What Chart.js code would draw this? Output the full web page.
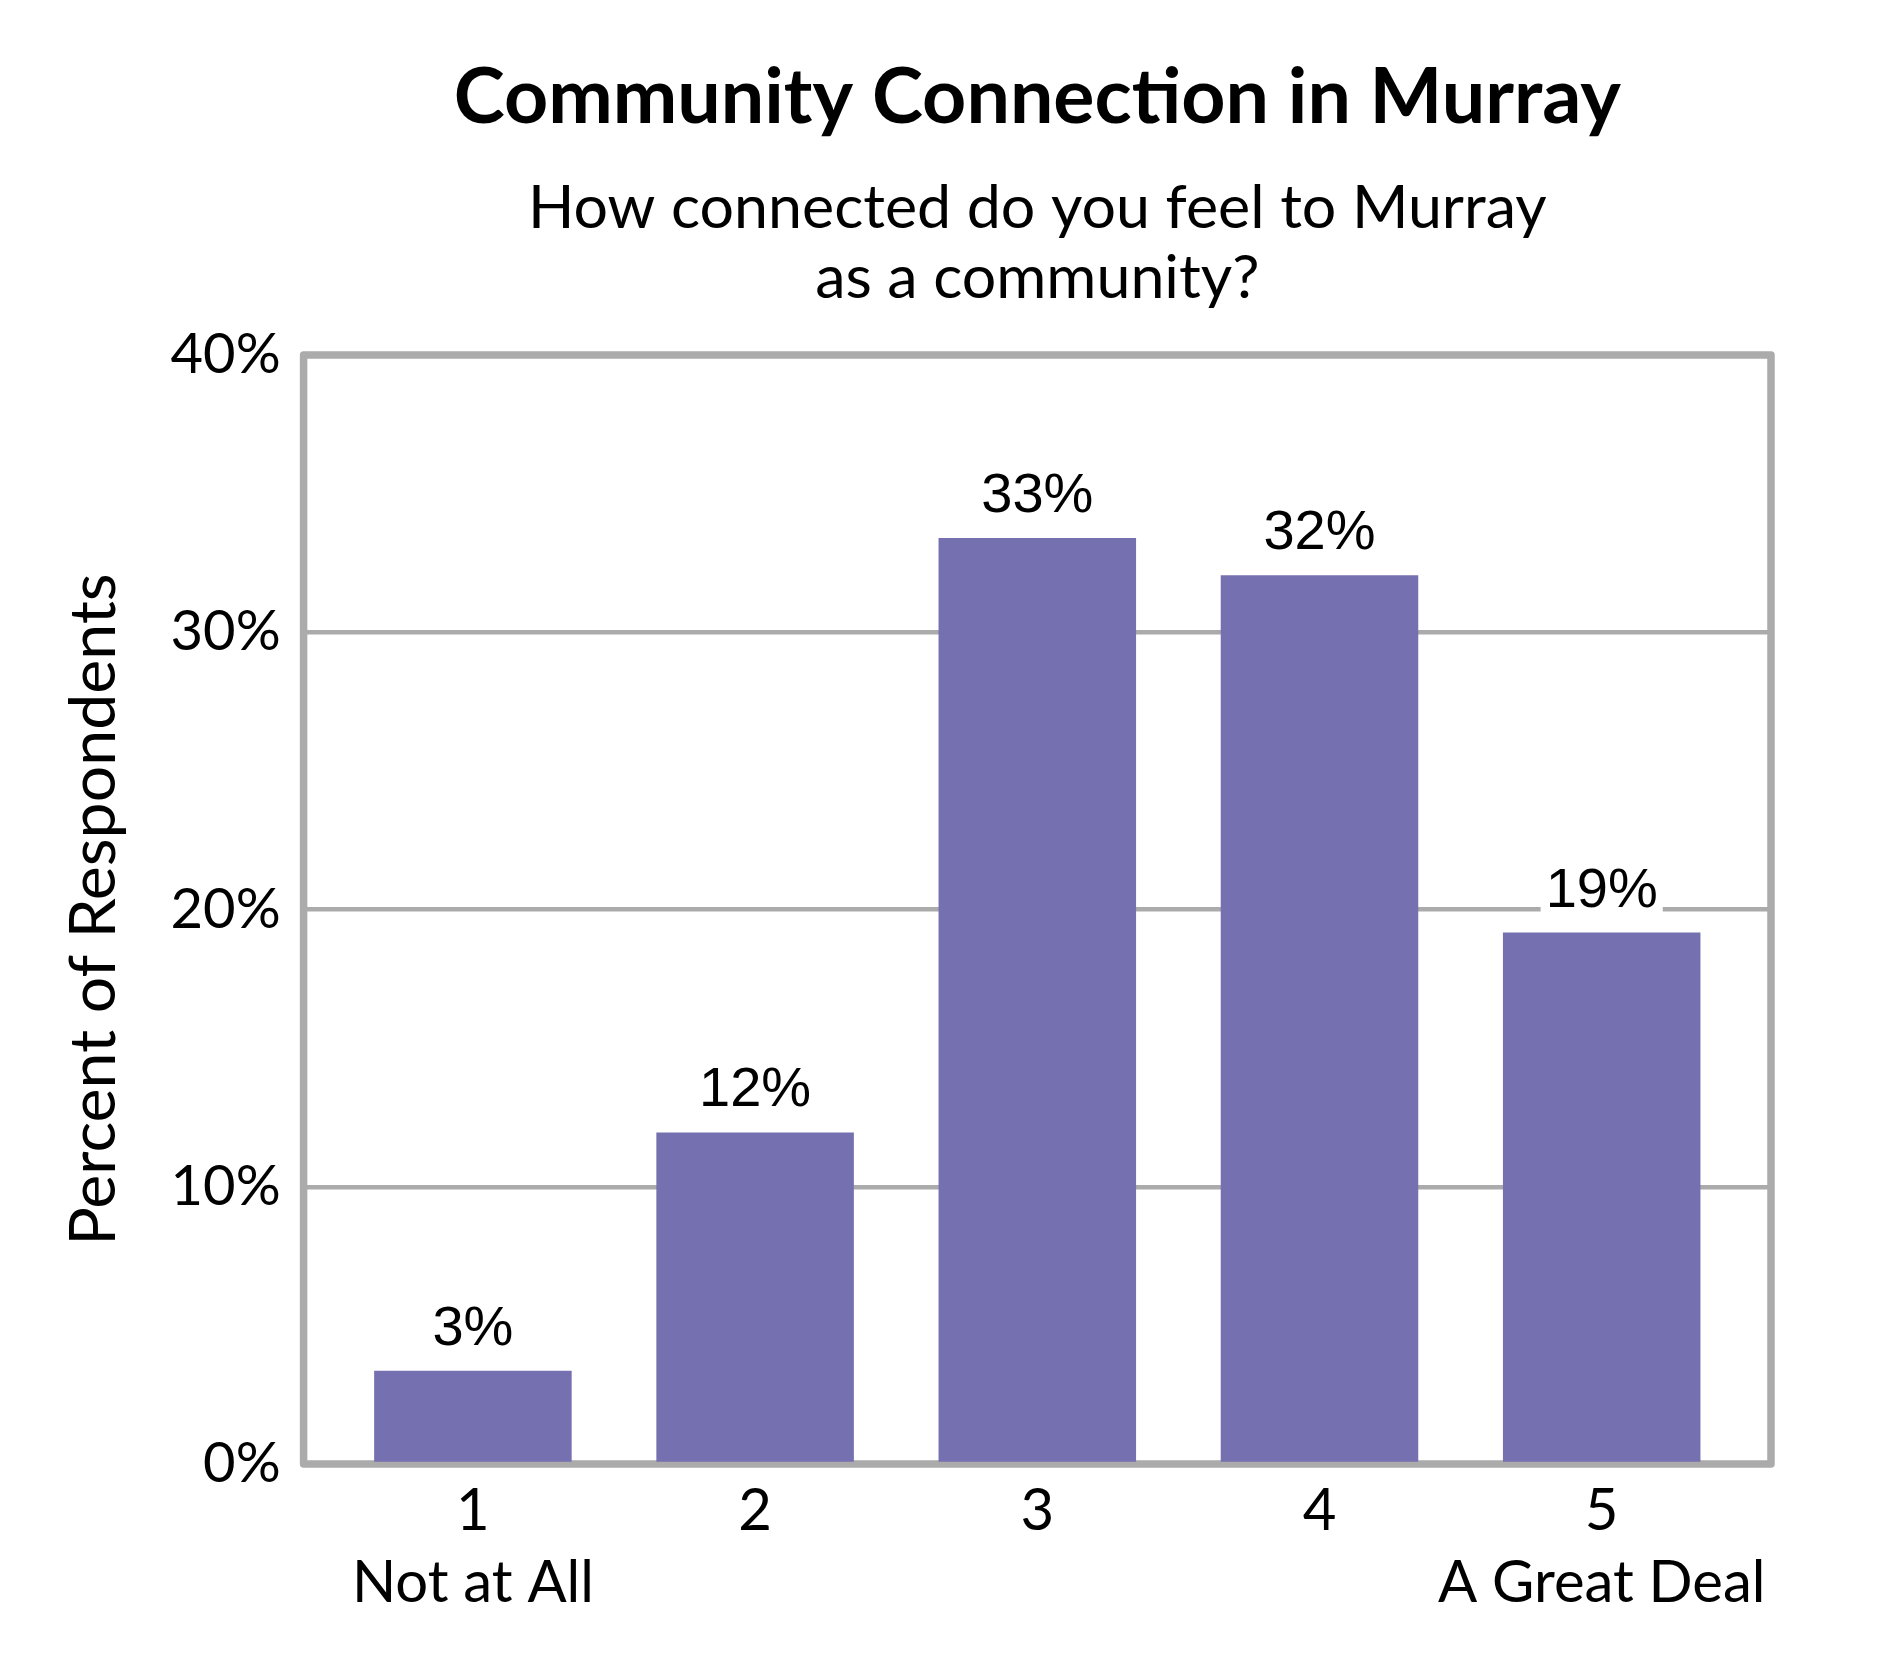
<!DOCTYPE html>
<html>
<head>
<meta charset="utf-8">
<script src="https://cdn.jsdelivr.net/npm/chart.js@4.4.1/dist/chart.umd.min.js"></script>
<style>
html,body{margin:0;padding:0;background:#fff;}
#wrap{width:1890px;height:1680px;}
canvas{display:block;}
</style>
</head>
<body>
<div id="wrap"><canvas id="c" width="1890" height="1680"></canvas></div>
<script>
// ---- data ----
const categories = ["1", "2", "3", "4", "5"];
const captions = ["Not at All", "", "", "", "A Great Deal"];
const values = [3.36, 11.96, 33.4, 32.06, 19.17];
const valueLabels = ["3%", "12%", "33%", "32%", "19%"];
const yTicks = [0, 10, 20, 30, 40];
const titleText = "Community Connection in Murray";
const subtitleLines = ["How connected do you feel to Murray", "as a community?"];
const yTitle = "Percent of Respondents";

// ---- style ----
const FONT = 'Lato, "Open Sans", sans-serif';
const SANS = '"Liberation Sans", Arial, sans-serif';
const GRID = '#ABABAB';
const BAR = '#7571B1';

const mctx = document.createElement('canvas').getContext('2d');
function fit(text, weight, family, target) {
  mctx.font = weight + ' 100px ' + family;
  return Math.round(1000 * target / mctx.measureText(text).width) / 10;
}
const titleSize = fit(titleText, 'bold', FONT, 1168);
const subSize = fit(subtitleLines[0], 'normal', FONT, 1018);
const xSize = fit("Not at All", 'normal', FONT, 242);
const ySize = fit("40%", 'normal', FONT, 110);
const yTitleSize = fit(yTitle, 'normal', FONT, 672);
const labelSize = 56;

const decor = {
  id: 'decor',
  beforeDatasetsDraw(chart) {
    const { ctx, chartArea: a } = chart;
    ctx.save();
    ctx.strokeStyle = GRID;
    ctx.lineWidth = 7.5;
    ctx.lineJoin = 'round';
    ctx.strokeRect(a.left, a.top, a.right - a.left, a.bottom - a.top);
    ctx.restore();
  },
  afterDatasetsDraw(chart) {
    const { ctx } = chart;
    const meta = chart.getDatasetMeta(0);
    ctx.save();
    ctx.font = labelSize + 'px ' + SANS;
    ctx.textAlign = 'center';
    ctx.textBaseline = 'alphabetic';
    meta.data.forEach((bar, i) => {
      const txt = valueLabels[i];
      const w = ctx.measureText(txt).width;
      const yb = bar.y - 26;
      ctx.fillStyle = '#fff';
      ctx.fillRect(bar.x - w / 2 - 5, yb - 43, w + 10, 51);
      ctx.fillStyle = '#000';
      ctx.fillText(txt, bar.x, yb);
    });
    ctx.restore();
  },
  afterDraw(chart) {
    const { ctx, chartArea: a } = chart;
    const cx = (a.left + a.right) / 2;
    ctx.save();
    ctx.fillStyle = '#000';
    ctx.textAlign = 'center';
    ctx.textBaseline = 'alphabetic';
    ctx.font = 'bold ' + titleSize + 'px ' + FONT;
    ctx.fillText(titleText, cx, 123);
    ctx.font = subSize + 'px ' + FONT;
    ctx.fillText(subtitleLines[0], cx, 228);
    ctx.fillText(subtitleLines[1], cx, 298);
    ctx.translate(115, (a.top + a.bottom) / 2);
    ctx.rotate(-Math.PI / 2);
    ctx.font = yTitleSize + 'px ' + FONT;
    ctx.fillText(yTitle, 0, 0);
    ctx.restore();
  }
};

new Chart(document.getElementById('c'), {
  type: 'bar',
  data: {
    datasets: [{
      data: values.map((v, i) => ({ x: i + 1, y: v })),
      backgroundColor: BAR,
      borderWidth: 0,
      barPercentage: 0.7,
      categoryPercentage: 1
    }]
  },
  options: {
    responsive: false,
    animation: false,
    devicePixelRatio: 1,
    layout: { padding: { top: 355, right: 119, bottom: 0, left: 0 } },
    plugins: { legend: { display: false }, tooltip: { enabled: false }, title: { display: false } },
    scales: {
      x: {
        type: 'linear',
        offset: false,
        min: 0.4,
        max: 5.6,
        grid: { display: false, offset: false },
        border: { display: false },
        afterBuildTicks(s) { s.ticks = categories.map((c, i) => ({ value: i + 1 })); },
        afterFit(s) { s.height = 216; },
        ticks: {
          autoSkip: false,
          maxRotation: 0,
          padding: 3,
          color: '#000',
          font: { family: FONT, size: xSize, lineHeight: 72 / xSize },
          callback(v) {
            const i = Math.round(v) - 1;
            return captions[i] ? [categories[i], captions[i]] : categories[i];
          }
        }
      },
      y: {
        min: 0,
        max: 40,
        afterBuildTicks(s) { s.ticks = yTicks.map(v => ({ value: v })); },
        afterFit(s) { s.width = 303.6; },
        grid: { color: GRID, lineWidth: 4.5, drawTicks: false },
        border: { display: false },
        ticks: {
          padding: 23,
          color: '#000',
          font: { family: FONT, size: ySize },
          callback: v => v + '%'
        }
      }
    }
  },
  plugins: [decor]
});
</script>
</body>
</html>
